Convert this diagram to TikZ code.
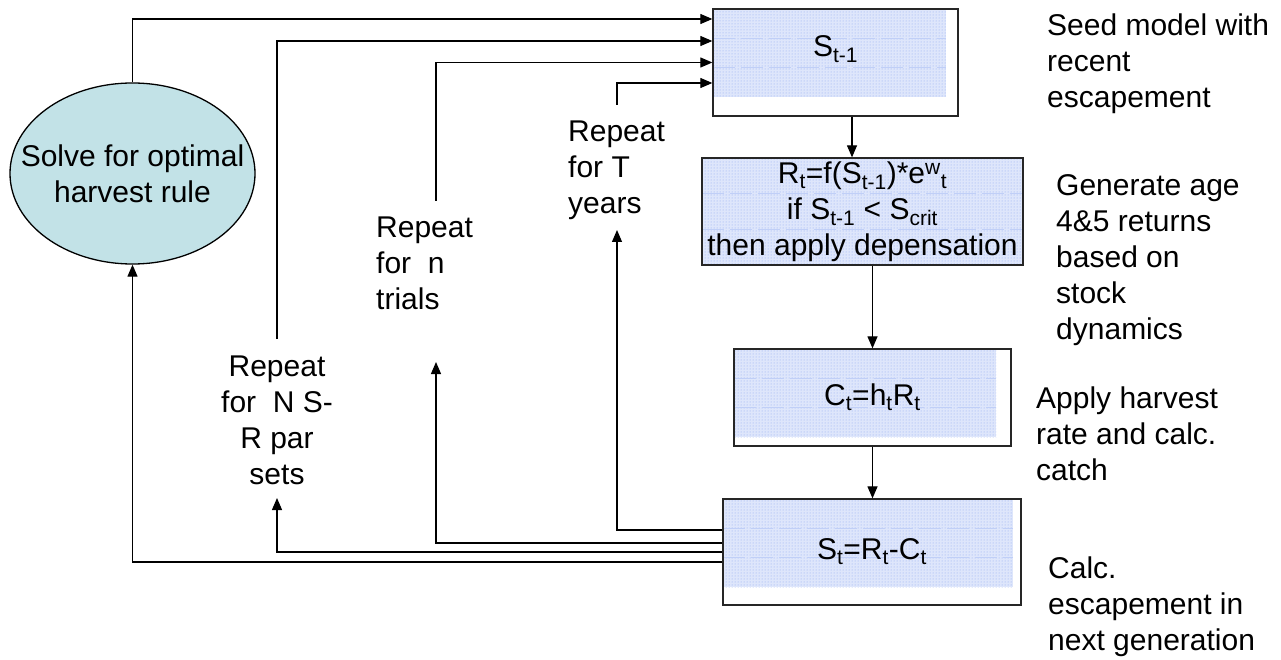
\documentclass[tikz,border=0pt]{standalone}
\usepackage{fontspec}
\setmainfont{Liberation Sans}
\usetikzlibrary{shapes.geometric,arrows.meta,patterns,calc}
\definecolor{speckblue}{RGB}{222,230,251}
\definecolor{speckdot}{RGB}{140,168,240}
\definecolor{solvecyan}{RGB}{194,226,231}

\begin{document}
\begin{tikzpicture}[x=1pt, y=-1pt,
        font=\fontsize{30}{36}\selectfont,
        stage/.style={draw=black!85, line width=1.3pt, rectangle, inner sep=0pt, align=center},
        speckle/.style 2 args={path picture={
            \fill[speckblue] (path picture bounding box.north west) rectangle ([xshift=-#1pt,yshift=#2pt]path picture bounding box.south east);
            \fill[pattern=dots, pattern color=speckdot] (path picture bounding box.north west) rectangle ([xshift=-#1pt,yshift=#2pt]path picture bounding box.south east);
            \path (path picture bounding box.north west) coordinate (spa) ([xshift=-#1pt,yshift=#2pt]path picture bounding box.south east) coordinate (spb);
            \draw[speckdot!55, line width=0.5pt, dash pattern=on 22pt off 6pt] ($(spa)!1/3!(spa |- spb)$) -- ($(spa -| spb)!1/3!(spb)$);
            \draw[speckdot!55, line width=0.5pt, dash pattern=on 22pt off 6pt] ($(spa)!2/3!(spa |- spb)$) -- ($(spa -| spb)!2/3!(spb)$);}},
        note/.style={anchor=north west, align=left, inner sep=0pt},
        loopnote/.style={anchor=north, align=center, inner sep=0pt},
        link/.style={line width=1.2pt},
        flow/.style={link, -{Triangle[length=12pt,width=10pt]}}]
        \useasboundingbox (0,0) rectangle (1281,660);

        % simulation boxes
        \node (prev) [stage, speckle={12}{19}, minimum width=245pt, minimum height=107pt, text height=21pt, text depth=33pt] at (835.5,62.5) {S\textsubscript{t-1}};
        \node (recr) [stage, speckle={0}{0}, minimum width=321pt, minimum height=107pt] at (862.5,211.5) {R\textsubscript{t}=f(S\textsubscript{t-1})*e\textsuperscript{w}\textsubscript{t}\\if S\textsubscript{t-1} < S\textsubscript{crit}\\then apply depensation};
        \node (catch) [stage, speckle={15}{9}, minimum width=277pt, minimum height=97pt] at (872.5,397.5) {C\textsubscript{t}=h\textsubscript{t}R\textsubscript{t}};
        \node (esc) [stage, speckle={8}{18}, minimum width=298pt, minimum height=106pt] at (872,552) {S\textsubscript{t}=R\textsubscript{t}-C\textsubscript{t}};

        % optimisation step
        \node (solve) [ellipse, draw=black, line width=1.3pt, fill=solvecyan, minimum width=245pt, minimum height=181pt, inner sep=0pt] at (132.5,173.5) {};
        \node (solvetext) [align=center, inner sep=0pt] at (solve.center) {Solve for optimal\\harvest rule};

        % notes on the right
        \node (seednote) [note] at (1047,14) {Seed model with\\recent\\escapement};
        \node (gennote) [note] at (1056,174) {Generate age\\4\&5 returns\\based on\\stock\\dynamics};
        \node (applynote) [note] at (1036,387) {Apply harvest\\rate and calc.\\catch};
        \node (calcnote) [note] at (1048,557) {Calc.\\escapement in\\next generation};

        % loop labels
        \node (yearsnote) [note] at (568,121) {Repeat\\for T\\years};
        \node (trialsnote) [note] at (376,217) {Repeat\\for\ \ n\\trials};
        \node (setsnote) [loopnote] at (277,356) {Repeat\\for\ \ N S-\\R par\\sets};

        \coordinate (yearsfoot) at (617,230);
        \coordinate (yearshead) at (617,105);
        \coordinate (trialsfoot) at (436,362);
        \coordinate (trialshead) at (436,201);
        \coordinate (setsfoot) at (277,498);
        \coordinate (setshead) at (277,339);
        \coordinate (seedfoot) at ([xshift=16.5pt]prev.south);

        \draw[flow] (seedfoot) -- (seedfoot |- recr.north);
        \draw[flow] (catch.north |- recr.south) -- (catch.north);
        \draw[flow] (catch.south) -- (catch.south |- esc.north);

        % feedback loops
        \draw[flow] ([yshift=22pt]esc.west) -| (yearsfoot);
        \draw[flow] ([yshift=9pt]esc.west) -| (trialsfoot);
        \draw[flow] (esc.west) -| (setsfoot);
        \draw[flow] ([yshift=-10pt]esc.west) -| (solve.south);
        \draw[flow] (yearshead) |- ([yshift=-20.5pt]prev.west);
        \draw[flow] (trialshead) |- (prev.west);
        \draw[flow] (setshead) |- ([yshift=21.5pt]prev.west);
        \draw[flow] (solve.north) |- ([yshift=43.5pt]prev.west);
\end{tikzpicture}
\end{document}
